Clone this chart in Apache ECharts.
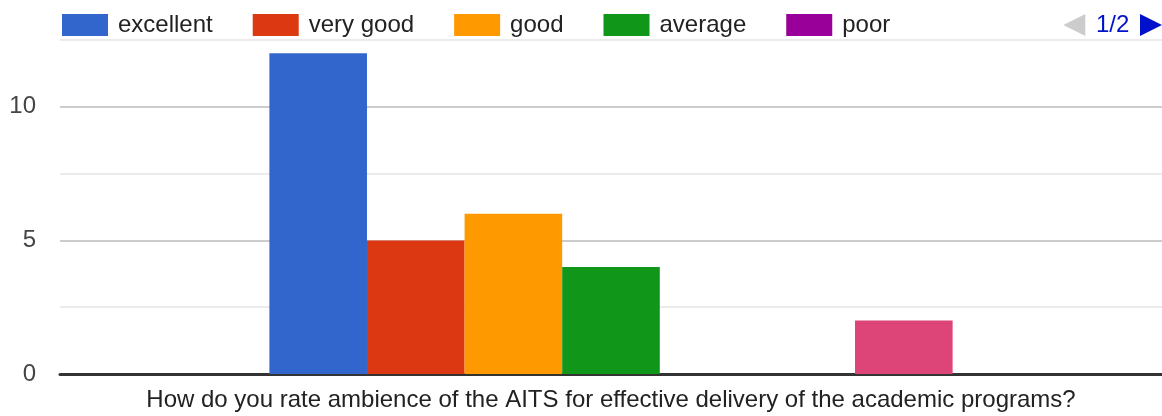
<!DOCTYPE html>
<html>
<head>
<meta charset="utf-8">
<title>ambience rating</title>
<script src="https://cdn.jsdelivr.net/npm/echarts@6/dist/echarts.min.js"></script>
<style>
    html, body { margin: 0; padding: 0; background: #fff; }
    #chart { width: 1162px; height: 416px; }
</style>
</head>
<body>
<div id="chart"></div>
<script>
// data
var categories = ['How do you rate ambience of the AITS for effective delivery of the academic programs?'];
var seriesNames = ['excellent', 'very good', 'good', 'average', 'poor', 'very poor', 'no comment'];
var seriesValues = [12, 5, 6, 4, 0, 0, 2];
var yMin = 0, yMax = 12.5, yStep = 2.5;

var palette = ['#3366cc', '#dc3912', '#ff9900', '#109618', '#990099', '#0099c6', '#dd4477'];
var font = 'Liberation Sans, Arial, sans-serif';

drawChart();

function drawChart() {
    var myChart = echarts.init(document.getElementById('chart'));
    var series = seriesNames.map(function (name, i) {
        return {
            name: name,
            type: 'bar',
            data: [seriesValues[i]],
            barGap: '0%',
            barCategoryGap: '38%',
            itemStyle: { color: palette[i] }
        };
    });
    var option = {
        animation: false,
        color: palette,
        textStyle: { fontFamily: font },
        legend: {
            type: 'scroll',
            left: 62,
            right: 0,
            top: 13,
            padding: 0,
            itemWidth: 46,
            itemHeight: 22,
            itemGap: 40,
            itemTextGap: 11,
            icon: 'rect',
            textStyle: { fontSize: 24, color: '#222', fontFamily: font, padding: [0, 0, 0, 5] },
            pageButtonGap: 148,
            pageButtonItemGap: 0,
            pageIcons: {
                horizontal: ['path://M0,11L22,0L22,22z', 'path://M22,11L0,0L0,22z']
            },
            pageIconSize: [22, 22],
            pageIconColor: '#0011cc',
            pageIconInactiveColor: '#cccccc',
            pageTextStyle: { fontSize: 24, color: '#0011cc', fontFamily: font },
            pageFormatter: '{current}/{total}',
            data: seriesNames
        },
        grid: {
            left: 60,
            right: 0,
            top: 40,
            bottom: 42
        },
        xAxis: {
            type: 'category',
            data: categories,
            axisTick: { show: false },
            axisLine: { lineStyle: { color: '#333', width: 3 } },
            axisLabel: { margin: 14, fontSize: 24, color: '#222', fontFamily: font }
        },
        yAxis: {
            type: 'value',
            min: yMin,
            max: yMax,
            interval: yStep,
            axisLine: { show: false },
            axisTick: { show: false },
            axisLabel: {
                margin: 24,
                fontSize: 24,
                color: '#444',
                fontFamily: font,
                formatter: function (v) { return v % 5 === 0 ? String(v) : ''; }
            },
            splitLine: { lineStyle: { color: ['#cccccc', '#ebebeb'], width: 2 } }
        },
        series: series
    };
    myChart.setOption(option);
}
</script>
</body>
</html>
